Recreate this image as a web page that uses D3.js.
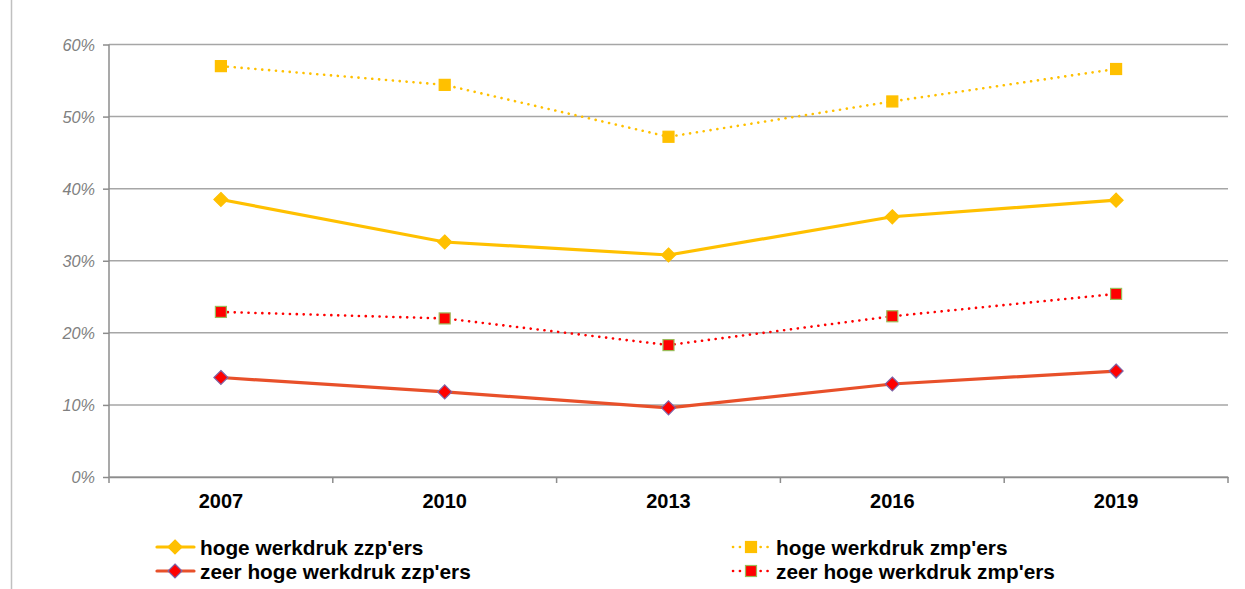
<!DOCTYPE html>
<html><head><meta charset="utf-8">
<script src="https://cdn.jsdelivr.net/npm/d3@7"></script>
<style>body{margin:0;background:#fff}svg{display:block;font-family:"Liberation Sans",Arial,sans-serif}</style>
</head><body><svg id="c" width="1245" height="589"></svg>
<script>
const years = ["2007","2010","2013","2016","2019"];
const yTicks = [0,10,20,30,40,50,60];
const hogeZzp = [38.5,32.6,30.8,36.1,38.4];
const hogeZmp = [57.0,54.4,47.2,52.1,56.6];
const zeerZzp = [13.8,11.8,9.6,12.9,14.7];
const zeerZmp = [22.9,22.0,18.3,22.3,25.4];

const series = [
  {name:"hoge werkdruk zmp'ers", values:hogeZmp, color:"#FFC000", width:2.6, dash:"0.1,6.8", marker:"square", fill:"#FFC000", stroke:"#FFC000"},
  {name:"zeer hoge werkdruk zmp'ers", values:zeerZmp, color:"#FF0000", width:2.6, dash:"0.1,6.8", marker:"square", fill:"#FF0000", stroke:"#9BBB59"},
  {name:"hoge werkdruk zzp'ers", values:hogeZzp, color:"#FFC000", width:3.2, dash:null, marker:"diamond", fill:"#FFC000", stroke:"#FFC000"},
  {name:"zeer hoge werkdruk zzp'ers", values:zeerZzp, color:"#E8502A", width:3.2, dash:null, marker:"diamond", fill:"#FF0000", stroke:"#7F64A6"}
];

const svg = d3.select("#c");
const L=109, R=1228, T=44.5, B=477;
const x = d3.scaleBand().domain(years).range([L,R]);
const y = d3.scaleLinear().domain([0,60]).range([B,T]);

// frame left border
svg.append("line").attr("x1",11.5).attr("x2",11.5).attr("y1",0).attr("y2",589).attr("stroke","#c0c0c0").attr("stroke-width",1.5);

// gridlines
svg.append("g").selectAll("line").data(yTicks).join("line")
  .attr("x1",L).attr("x2",R).attr("y1",d=>y(d)).attr("y2",d=>y(d))
  .attr("stroke","#a6a6a6").attr("stroke-width",1.5);

// y axis
const ya = svg.append("g").attr("transform",`translate(${L},0)`)
  .call(d3.axisLeft(y).tickValues(yTicks).tickSize(6).tickFormat(d=>d+"%"));
ya.select(".domain").remove();
ya.append("line").attr("x1",0).attr("x2",0).attr("y1",T).attr("y2",B+6).attr("stroke","#8c8c8c").attr("stroke-width",1.5);
ya.selectAll(".tick line").attr("stroke","#8c8c8c").attr("stroke-width",1.5);
ya.selectAll(".tick text").attr("x",-14).attr("fill","#808080").attr("font-style","italic").attr("font-size",16.3).attr("dy","0.35em");

// x axis
const xa = svg.append("g").attr("transform",`translate(0,${B})`)
  .call(d3.axisBottom(x).tickSize(0).tickPadding(17));
xa.select(".domain").attr("stroke","#8c8c8c").attr("stroke-width",1.5);
xa.selectAll(".tick text").attr("fill","#000").attr("font-weight","bold").attr("font-size",20);
xa.append("g").selectAll("line").data(years).join("line")
  .attr("x1",d=>x(d)+x.bandwidth()).attr("x2",d=>x(d)+x.bandwidth()).attr("y1",0).attr("y2",6)
  .attr("stroke","#8c8c8c").attr("stroke-width",1.5);

const cx = d=>x(d)+x.bandwidth()/2;
function drawMarker(g, m, px, py){
  if(m.marker==="square"){
    g.append("rect").attr("x",px-5.5).attr("y",py-5.5).attr("width",11).attr("height",11)
      .attr("fill",m.fill).attr("stroke",m.stroke).attr("stroke-width",1.2);
  } else {
    g.append("path").attr("d",`M${px},${py-7}L${px+7},${py}L${px},${py+7}L${px-7},${py}Z`)
      .attr("fill",m.fill).attr("stroke",m.stroke).attr("stroke-width",1.2);
  }
}
const line = d3.line().x(d=>cx(d.year)).y(d=>y(d.v));
series.forEach(s=>{
  const pts = years.map((yr,i)=>({year:yr,v:s.values[i]}));
  const g = svg.append("g");
  g.append("path").attr("d",line(pts)).attr("fill","none").attr("stroke",s.color)
    .attr("stroke-width",s.width).attr("stroke-dasharray",s.dash).attr("stroke-linecap","round");
  pts.forEach(p=>drawMarker(g,s,cx(p.year),y(p.v)));
});

// legend
const leg = [
  {s:series[2], x:157, y:547},
  {s:series[3], x:157, y:571},
  {s:series[0], x:733, y:547},
  {s:series[1], x:733, y:571}
];
leg.forEach(l=>{
  const g = svg.append("g");
  g.append("line").attr("x1",l.x).attr("x2",l.x+37).attr("y1",l.y).attr("y2",l.y)
    .attr("stroke",l.s.color).attr("stroke-width",l.s.width).attr("stroke-dasharray",l.s.dash).attr("stroke-linecap","round");
  drawMarker(g,l.s,l.x+18,l.y);
  g.append("text").attr("x",l.x+43).attr("y",l.y+1).attr("dy","0.35em")
    .attr("font-weight","bold").attr("font-size",20.8).attr("fill","#000").text(l.s.name);
});
</script></body></html>
